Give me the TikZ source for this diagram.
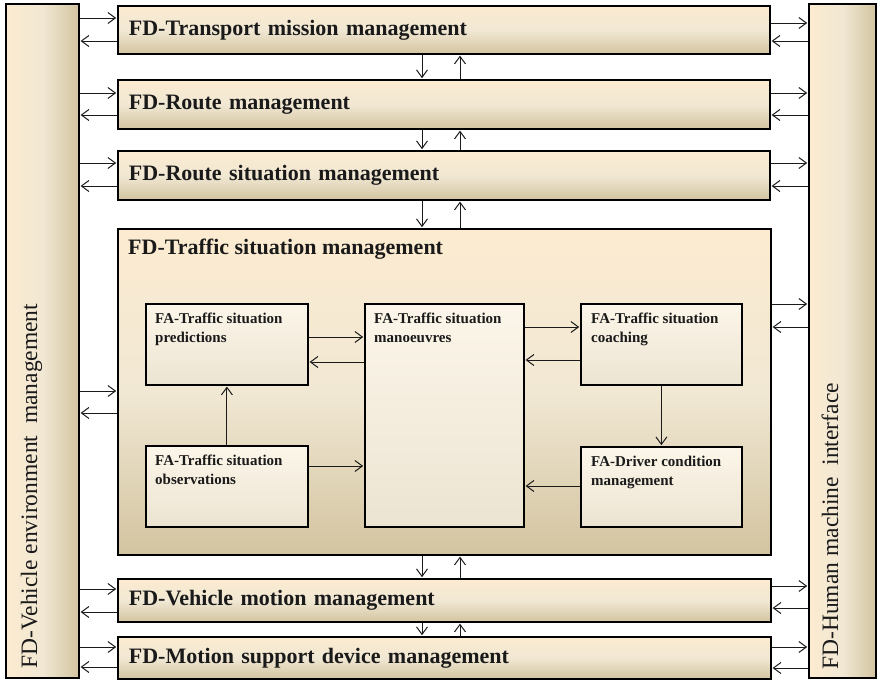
\documentclass[tikz,border=0pt]{standalone}
\usepackage{fontspec}
\setmainfont{Liberation Serif}
\usetikzlibrary{arrows.meta,calc}
\definecolor{cream}{HTML}{FCEBD0}
\definecolor{creammid}{HTML}{F1E8D4}
\definecolor{tanbot}{HTML}{D3C4A0}
\definecolor{inntop}{HTML}{FCF6EA}
\definecolor{innbot}{HTML}{ECE4D2}
\definecolor{inkline}{HTML}{1A1A1A}
\begin{document}
\begin{tikzpicture}[x=1pt,y=-1pt,
  box/.style={draw=black, line width=1.8pt, rectangle, inner sep=0pt, anchor=north west},
  fdbox/.style={box, top color=cream, bottom color=tanbot, middle color=creammid,
    align=left, font=\bfseries\fontsize{22}{25}\selectfont, text=inkline},
  colbox/.style={box, left color=cream, right color=tanbot, middle color=creammid},
  fabox/.style={box, top color=inntop, bottom color=innbot},
  fatext/.style={anchor=north west, inner sep=0pt, align=left, text=inkline,
    font=\bfseries\fontsize{15}{19}\selectfont},
  fdtext/.style={inner sep=0pt, text=inkline, font=\bfseries\fontsize{22}{25}\selectfont},
  sidetext/.style={inner sep=0pt, rotate=90, anchor=base west, text=inkline,
    font=\fontsize{23.5}{28}\selectfont},
  arr/.style={draw=inkline, line width=1pt, shorten >=0.8pt,
    -{Straight Barb[length=7.5pt,width=11pt]}}
]
\useasboundingbox (0,0) rectangle (878,680);

% side columns
\node[colbox, minimum width=73pt, minimum height=674pt] (envcol) at (5,3) {};
\node[colbox, minimum width=67pt, minimum height=674pt] (hmicol) at (808,3) {};
\node[sidetext] (envT) at ($(envcol.south west)+(32,-10)$) {FD-Vehicle environment~ management};
\node[sidetext] (hmiT) at ($(hmicol.south west)+(30,-9)$) {FD-Human machine~ interface};

% horizontal FD boxes
\node[fdbox, minimum width=652pt, minimum height=48pt, text width=630pt] (tm) at (117,5) {FD-Transport mission management};
\node[fdbox, minimum width=652pt, minimum height=49pt, text width=630pt] (rm) at (117,79) {FD-Route management};
\node[fdbox, minimum width=652pt, minimum height=49pt, text width=630pt] (rsm) at (117,150) {FD-Route situation management};
\node[box, top color=cream, bottom color=tanbot, middle color=creammid,
      minimum width=653pt, minimum height=326pt] (tsm) at (117,228) {};
\node[fdtext, anchor=base west] (tsmT) at ($(tsm.north west)+(11,26)$) {FD-Traffic situation management};
\node[fdbox, minimum width=653pt, minimum height=43pt, text width=631pt] (vmm) at (117,578) {FD-Vehicle motion management};
\node[fdbox, minimum width=653pt, minimum height=42pt, text width=631pt] (msd) at (117,636) {FD-Motion support device management};

% inner FA boxes
\node[fabox, minimum width=162pt, minimum height=81pt] (pred) at (145,303) {};
\node[fabox, minimum width=159pt, minimum height=223pt] (man) at (364,303) {};
\node[fabox, minimum width=161pt, minimum height=81pt] (coach) at (580,303) {};
\node[fabox, minimum width=161pt, minimum height=80pt] (drv) at (580,446) {};
\node[fabox, minimum width=162pt, minimum height=81pt] (obs) at (145,445) {};
\node[fatext] (predT) at ($(pred.north west)+(10,10)$) {FA-Traffic situation\\predictions};
\node[fatext] (manT) at ($(man.north west)+(10,10)$) {FA-Traffic situation\\manoeuvres};
\node[fatext] (coachT) at ($(coach.north west)+(11,10)$) {FA-Traffic situation\\coaching};
\node[fatext] (drvT) at ($(drv.north west)+(11,10)$) {FA-Driver condition\\management};
\node[fatext] (obsT) at ($(obs.north west)+(10,10)$) {FA-Traffic situation\\observations};

% arrows to and from the side columns
\foreach \b/\ia/\ib/\oa/\ob in {tm/13/36/18/36, rm/14/36/14/36, rsm/13/36/13/36,
    tsm/163/185/76/99, vmm/11/34/8/30, msd/11/31/11/32} {
  \path (\b.north west) ++(0,\ia) coordinate (la);
  \path (\b.north west) ++(0,\ib) coordinate (lb);
  \path (\b.north east) ++(0,\oa) coordinate (ra);
  \path (\b.north east) ++(0,\ob) coordinate (rb);
  \draw[arr] (la -| envcol.east) -- (la);
  \draw[arr] (lb) -- (lb -| envcol.east);
  \draw[arr] (ra) -- (ra -| hmicol.west);
  \draw[arr] (rb -| hmicol.west) -- (rb);
}

% vertical arrows between stacked boxes
\foreach \a/\c in {tm/rm, rm/rsm, rsm/tsm, tsm/vmm, vmm/msd} {
  \path (\a.south west) ++(305,0) coordinate (dn);
  \path (\a.south west) ++(343,0) coordinate (up);
  \draw[arr] (dn) -- (dn |- \c.north);
  \draw[arr] (up |- \c.north) -- (up);
}

% inner arrows
\path (pred.north east) ++(0,34) coordinate (p1);
\path (pred.north east) ++(0,59) coordinate (p2);
\draw[arr] (p1) -- (p1 -| man.west);
\draw[arr] (p2 -| man.west) -- (p2);
\path (coach.north west) ++(0,24) coordinate (c1);
\path (coach.north west) ++(0,57) coordinate (c2);
\draw[arr] (c1 -| man.east) -- (c1);
\draw[arr] (c2) -- (c2 -| man.east);
\draw[arr] (coach.south) -- (drv.north);
\draw[arr] (obs.north) -- (pred.south);
\path (obs.north east) ++(0,21) coordinate (o1);
\draw[arr] (o1) -- (o1 -| man.west);
\path (drv.north west) ++(0,40) coordinate (d1);
\draw[arr] (d1) -- (d1 -| man.east);
\end{tikzpicture}
\end{document}
